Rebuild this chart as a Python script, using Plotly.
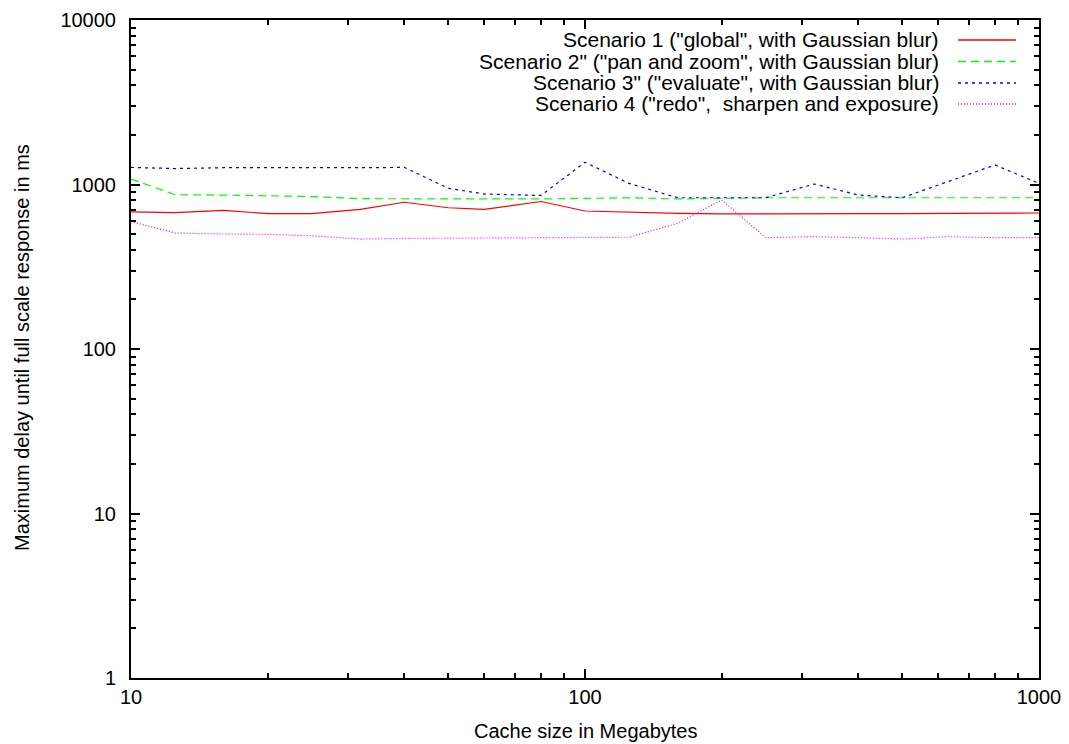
import plotly.graph_objects as go

cache_mb = [10, 12.5, 16, 20, 25, 32, 40, 50, 60, 80, 100, 125, 160, 200, 250, 320, 400, 500, 630, 800, 1000]
scenario1 = [681, 674, 697, 665, 665, 706, 780, 722, 706, 788, 690, 678, 668, 662, 665, 665, 665, 665, 665, 665, 671]
scenario2 = [1080, 867, 862, 857, 845, 820, 817, 817, 817, 817, 825, 830, 817, 825, 831, 831, 831, 825, 825, 828, 831]
scenario3 = [1270, 1250, 1265, 1262, 1262, 1265, 1270, 948, 875, 858, 1364, 1016, 831, 831, 831, 1007, 863, 831, 1040, 1314, 1016]
scenario4 = [594, 507, 500, 498, 488, 466, 470, 471, 472, 477, 475, 478, 581, 805, 475, 482, 475, 466, 482, 475, 475]

x_ticks = [10, 100, 1000]
y_ticks = [1, 10, 100, 1000, 10000]

names = [
    'Scenario 1 ("global", with Gaussian blur)',
    'Scenario 2" ("pan and zoom", with Gaussian blur)',
    'Scenario 3" ("evaluate", with Gaussian blur)',
    'Scenario 4 ("redo",  sharpen and exposure)',
]
series = [scenario1, scenario2, scenario3, scenario4]
colors = ["#ff0000", "#00ff00", "#0000ff", "#ff00ff"]
dashes = ["solid", "8px,5px", "3px,4px", "1px,2px"]

FONT = "Liberation Sans, Arial, sans-serif"
FS = 20

x_minor = [d * m for d in x_ticks[:-1] for m in range(2, 10)]
y_minor = [d * m for d in y_ticks[:-1] for m in range(2, 10)]

W, H = 1069, 744
L, R, T, B = 131, 30, 20, 66
plot_w = W - L - R
plot_h = H - T - B

fig = go.Figure()
for n, s, c, d in zip(names, series, colors, dashes):
    fig.add_trace(go.Scatter(x=cache_mb, y=s, mode="lines", name=n,
                             line=dict(color=c, width=1.2, dash=d), showlegend=False))

# gnuplot-style key: right-aligned text, sample line on the right
row_y = [40, 61.5, 83, 104]
for n, c, d, yy in zip(names, colors, dashes, row_y):
    y_dom = (H - B - yy) / plot_h
    fig.add_annotation(xref="paper", yref="paper", x=(941 - L) / plot_w, y=y_dom,
                       text=n, showarrow=False, xanchor="right", yanchor="middle",
                       font=dict(family=FONT, size=21, color="black"))
    fig.add_shape(type="line", xref="paper", yref="paper",
                  x0=(958 - L) / plot_w, x1=(1016 - L) / plot_w,
                  y0=y_dom, y1=y_dom, line=dict(color=c, width=1.5, dash=d))

# axis titles
fig.add_annotation(xref="paper", yref="paper", x=0.5, y=(H - B - 731) / plot_h,
                   text="Cache size in Megabytes", showarrow=False,
                   xanchor="center", yanchor="middle",
                   font=dict(family=FONT, size=FS, color="black"))
fig.add_annotation(xref="paper", yref="paper", x=(22 - L) / plot_w, y=(H - B - 348) / plot_h,
                   text="Maximum delay until full scale response in ms", showarrow=False,
                   textangle=-90, xanchor="center", yanchor="middle",
                   font=dict(family=FONT, size=FS, color="black"))

def axis_common():
    return dict(
        type="log", showgrid=False, zeroline=False, automargin=False,
        showline=True, linecolor="black", linewidth=2, mirror="allticks",
        ticks="inside", ticklen=9, tickwidth=1.5, tickcolor="black",
        tickfont=dict(family=FONT, size=FS, color="black"),
    )

fig.update_xaxes(range=[1, 3], tickvals=x_ticks, ticktext=[str(v) for v in x_ticks],
                 minor=dict(tickvals=x_minor, ticks="inside", ticklen=5, tickwidth=1.5,
                            tickcolor="black", showgrid=False),
                 **axis_common())
fig.update_yaxes(range=[0, 4], tickvals=y_ticks, ticktext=[str(v) for v in y_ticks],
                 minor=dict(tickvals=y_minor, ticks="inside", ticklen=5, tickwidth=1.5,
                            tickcolor="black", showgrid=False),
                 ticklabelstandoff=9,
                 **axis_common())

fig.update_layout(
    width=W, height=H,
    margin=dict(l=L, r=R, t=T, b=B, autoexpand=False),
    plot_bgcolor="white", paper_bgcolor="white",
    font=dict(family=FONT, size=FS, color="black"),
)

fig.write_html("out.html")
